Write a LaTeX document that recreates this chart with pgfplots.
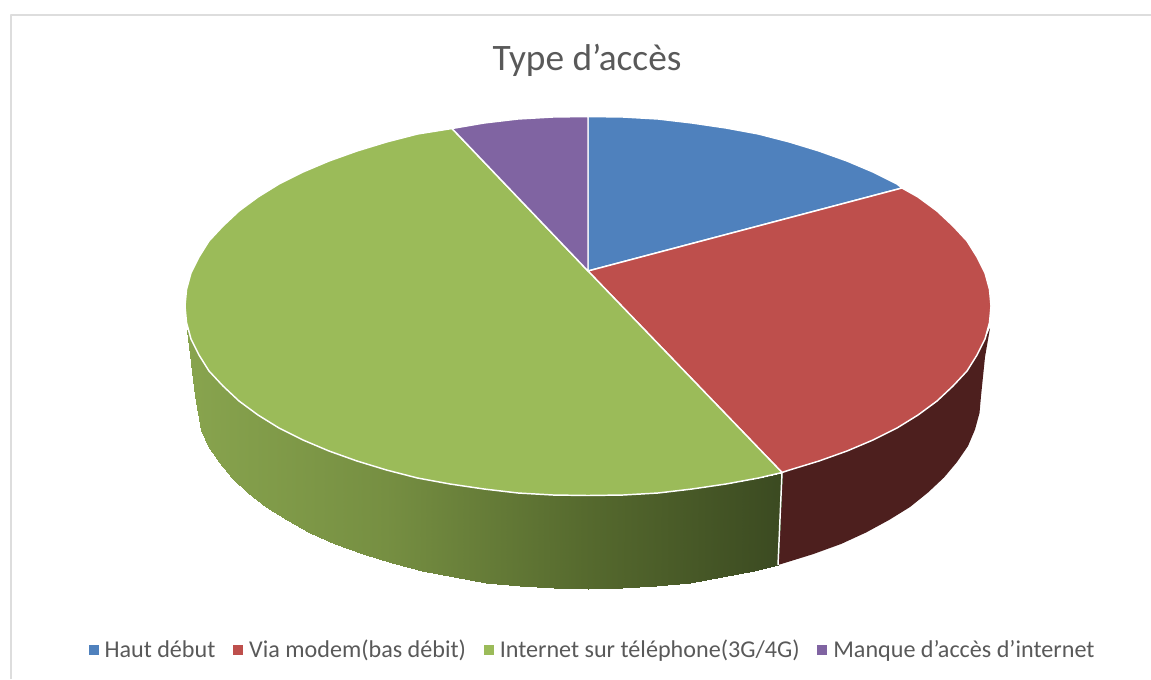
\documentclass[border=0pt]{standalone}
\usepackage{pgfplots}
\pgfplotsset{compat=1.18}
\usepackage{fontspec}
\setmainfont{Carlito}
\definecolor{tgray}{HTML}{595959}
\definecolor{fblue}{HTML}{4F81BD}
\definecolor{fred}{HTML}{BE4F4C}
\definecolor{fgreen}{HTML}{9BBB59}
\definecolor{fpurple}{HTML}{8064A2}
\definecolor{sred}{HTML}{4D1F1E}
\definecolor{framec}{HTML}{DDDDDD}
\begin{document}
\begin{tikzpicture}[line join=round]
\path[use as bounding box] (0,0) rectangle (863.25pt,509.25pt);
\begin{axis}[
  at={(0,0)}, anchor=south west,
  scale only axis, width=863.25pt, height=509.25pt,
  xmin=0, xmax=1151, ymin=0, ymax=679, y dir=reverse,
  hide axis, clip=false,
  colormap={sidegreen}{rgb255(0)=(136,164,78) rgb255(1)=(118,143,66) rgb255(2)=(86,106,46) rgb255(3)=(59,74,33)},
  point meta min=187, point meta max=782,
  legend image code/.code={\path[#1,draw=none] (0pt,-3.75pt) rectangle (7.5pt,3.75pt);},
  legend style={at={(axis cs:592.5,650)}, anchor=center, draw=none, fill=none,
    legend columns=4, font=\fontsize{18.1}{21}\selectfont\color{tgray},
    /tikz/every even column/.style={column sep=11.75pt},
    /tikz/every odd column/.style={column sep=3pt},
    inner sep=0pt, nodes={inner sep=1.5pt}},
  legend cell align=left,
]
% frame
\addplot[framec, line width=1.5pt, forget plot] coordinates {(10.5,679)(10.5,14.5)(1151,14.5)};
% side faces
\addplot[fill=sred, draw=none, forget plot] coordinates {
(782,472.5)(789.5,470)(819,461)(847,451)(873,440)(897,428)(918,415)(937,401)(953,386)(967,371)(977,355)(985,339)(990,328)
(985,357)(981,396)(979.5,413)(975,429.5)(968,446)(957,462)(944,477.5)(928,492.5)(910,507)(889,520)(866,532.5)(841,544)(813.5,554)(784.5,563)(778,565)(782,472.5)};
\addplot[surf, shader=interp, mesh/rows=2, point meta=x, forget plot] coordinates {
(187,330)(191,339)(199,355)(209,371)(223,386)(239,401)(258,415)(279,428)(303,440)(329,451)(357,461)(386.5,470)(417.5,478)(450,484)(484,489)(518,493)(553,495)(588,495.5)(623,495)(658,493)(692,489)(726,484)(758.5,478)(782,472.5)

(195,396)(201,429.5)(208,446)(219,462)(232,477.5)(248,492.5)(266,507)(287,520)(310,532.5)(335,544)(362.5,554)(391.5,563)(422,571)(454,577)(486,582.5)(520,586)(554,588)(588,589)(622,588)(656,586)(690,582.5)(722,577)(754,571)(778,565)
};
\addplot[white, line width=1.1pt, forget plot] coordinates {(782,472.5)(778,565)};
% top faces
\addplot[fill=fblue, draw=white, line width=1.1pt] coordinates {
(588,271)(588,116.5)(623,117)(658,119)(692,123)(726,128)(758.5,134)(789.5,142)(819,151)(847,161)(873,172)(897,184)(902,188)(588,271)};
\addlegendentry{Haut début}
\addplot[fill=fred, draw=white, line width=1.1pt] coordinates {
(588,271)(902,188)(918,197)(937,211)(953,226)(967,241)(977,257)(985,273)(989.5,289.5)(991,306)(989.5,322.5)(985,339)(977,355)(967,371)(953,386)(937,401)(918,415)(897,428)(873,440)(847,451)(819,461)(789.5,470)(782,472.5)(588,271)};
\addlegendentry{Via modem(bas débit)}
\addplot[fill=fgreen, draw=white, line width=1.1pt] coordinates {
(588,271)(782,472.5)(758.5,478)(726,484)(692,489)(658,493)(623,495)(588,495.5)(553,495)(518,493)(484,489)(450,484)(417.5,478)(386.5,470)(357,461)(329,451)(303,440)(279,428)(258,415)(239,401)(223,386)(209,371)(199,355)(191,339)(186.5,322.5)(185,306)(186.5,289.5)(191,273)(199,257)(209,241)(223,226)(239,211)(258,197)(279,184)(303,172)(329,161)(357,151)(386.5,142)(417.5,134)(452,128.5)(588,271)};
\addlegendentry{Internet sur téléphone(3G/4G)}
\addplot[fill=fpurple, draw=white, line width=1.1pt] coordinates {
(588,271)(452,128.5)(484,123)(518,119)(553,117)(588,116.5)(588,271)};
\addlegendentry{Manque d’accès d’internet}
\node[font=\fontsize{28}{32}\selectfont, text=tgray] at (axis cs:587,60.5) {Type d’accès};
\end{axis}
\end{tikzpicture}
\end{document}
